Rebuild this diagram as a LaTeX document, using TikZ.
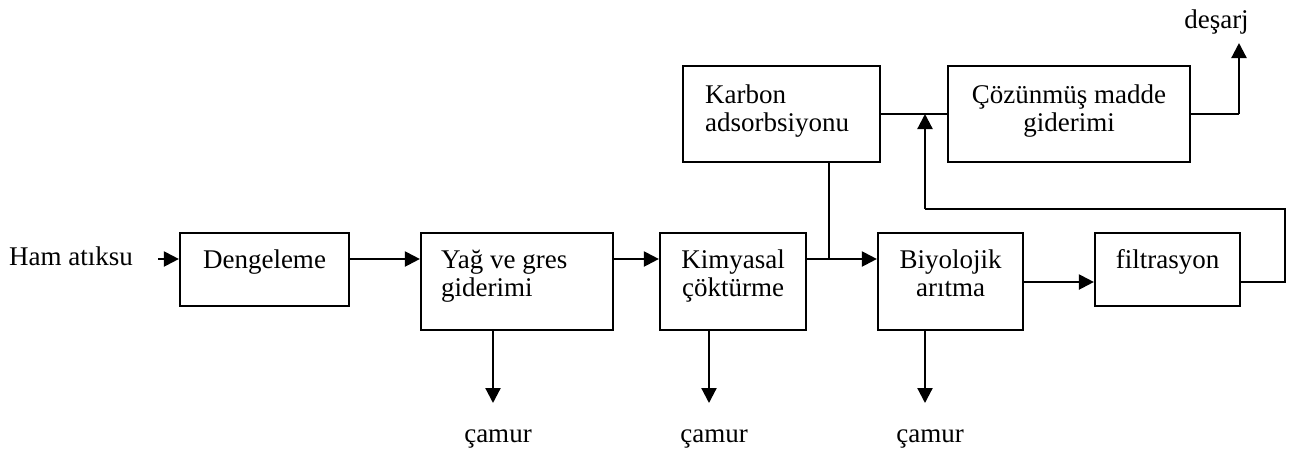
\documentclass[tikz,border=0pt]{standalone}
\usepackage{fontspec}
\setmainfont{Liberation Serif}
\usetikzlibrary{arrows.meta}
\begin{document}
\begin{tikzpicture}[x=1pt,y=-1pt,
  box/.style={draw,line width=2.2pt,inner sep=0pt},
  lbl/.style={inner sep=0pt,font=\fontsize{27}{28}\selectfont,align=center},
  lbll/.style={inner sep=0pt,font=\fontsize{27}{28}\selectfont,align=left},
  wire/.style={line width=2.2pt},
  arr/.style={line width=2.2pt,-{Triangle[length=15pt,width=15pt]}}]
\useasboundingbox (0,0) rectangle (1294,448);
% boxes
\node[box,minimum width=169pt,minimum height=73pt] (dng) at (264.5,269.5) {};
\node[box,minimum width=192pt,minimum height=97pt] (yag) at (517,281.5) {};
\node[box,minimum width=146pt,minimum height=97pt] (kim) at (733,281.5) {};
\node[box,minimum width=145pt,minimum height=97pt] (biy) at (950.5,281.5) {};
\node[box,minimum width=145pt,minimum height=73pt] (fil) at (1167.5,269.5) {};
\node[box,minimum width=197pt,minimum height=96pt] (kar) at (781.5,114) {};
\node[box,minimum width=242pt,minimum height=96pt] (coz) at (1069,114) {};
% texts (base anchor = baseline of the last line)
\node[lbl,anchor=base west] (ham) at (9,265) {Ham atıksu};
\node[lbl,anchor=base] (tdng) at (264.5,268) {Dengeleme};
\node[lbll,anchor=base west] (tyag) at (441,296) {Yağ ve gres\\giderimi};
\node[lbl,anchor=base] (tkim) at (733,296) {Kimyasal\\çöktürme};
\node[lbl,anchor=base] (tbiy) at (950.5,296) {Biyolojik\\arıtma};
\node[lbl,anchor=base] (tfil) at (1167.5,268) {filtrasyon};
\node[lbll,anchor=base west] (tkar) at (705,131) {Karbon\\adsorbsiyonu};
\node[lbl,anchor=base] (tcoz) at (1069,131) {Çözünmüş madde\\giderimi};
\node[lbl,anchor=base] (des) at (1216.5,28) {deşarj};
\node[lbl,anchor=base] (cam1) at (498,442) {çamur};
\node[lbl,anchor=base] (cam2) at (714,442) {çamur};
\node[lbl,anchor=base] (cam3) at (930,442) {çamur};
% coordinates
\coordinate (main) at (0,259);
\coordinate (hamend) at (158,259);
\coordinate (jx) at (829,259);
\coordinate (bf) at (0,282);
\coordinate (fr1) at (1285,282);
\coordinate (fr2) at (1285,209);
\coordinate (fl) at (925,209);
\coordinate (join) at (925,114);
\coordinate (d1) at (1239,114);
\coordinate (d2) at (1239,43);
\coordinate (c1) at (493,403);
\coordinate (c2) at (709,403);
\coordinate (c3) at (925,403);
% connectors
\draw[arr] (hamend) -- (dng.west |- main);
\draw[arr] (dng.east |- main) -- (yag.west |- main);
\draw[arr] (yag.east |- main) -- (kim.west |- main);
\draw[arr] (kim.east |- main) -- (biy.west |- main);
\draw[wire] (kar.south -| jx) -- (jx);
\draw[arr] (biy.east |- bf) -- (fil.west |- bf);
\draw[wire] (fil.east |- bf) -- (fr1) -- (fr2) -- (fl);
\draw[arr] (fl) -- (join);
\draw[wire] (kar.east) -- (coz.west);
\draw[wire] (coz.east) -- (d1);
\draw[arr] (d1) -- (d2);
\draw[arr] (yag.south -| c1) -- (c1);
\draw[arr] (kim.south -| c2) -- (c2);
\draw[arr] (biy.south -| c3) -- (c3);
\end{tikzpicture}
\end{document}
